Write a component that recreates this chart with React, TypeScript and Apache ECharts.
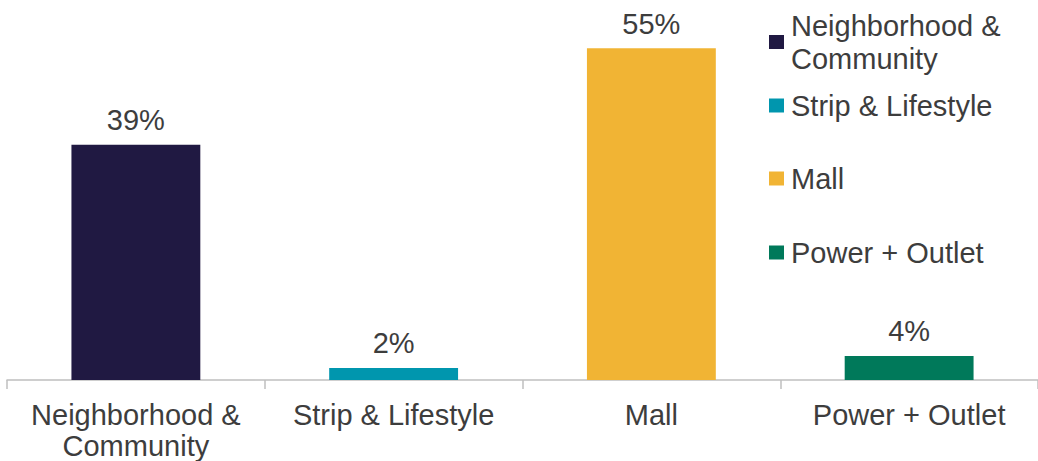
import React, { useEffect, useRef } from "react";
import * as echarts from "echarts";

const categories = ["Neighborhood &\nCommunity", "Strip & Lifestyle", "Mall", "Power + Outlet"];
const values = [39, 2, 55, 4];
const colors = ["#201942", "#0096AE", "#F1B434", "#00795A"];
const legendTops = [1.5, 89, 162, 236];

const FONT = "'Liberation Sans', Arial, sans-serif";
const TEXT = "#3D3D3D";

export default function App() {
  const ref = useRef<HTMLDivElement>(null);
  useEffect(() => {
    if (!ref.current) return;
    const chart = echarts.init(ref.current, null, { renderer: "svg" });
    const series = categories.map((name, i) => ({
      name,
      type: "bar",
      stack: "all",
      barWidth: "50%",
      itemStyle: { color: colors[i] },
      label: {
        show: true,
        position: "top",
        distance: 10,
        fontSize: 29,
        fontFamily: FONT,
        color: TEXT,
        formatter: (p: any) => `${p.value}%`,
      },
      data: categories.map((_, j) => (j === i ? values[i] : "-")),
    }));
    const legends = categories.map((name, i) => ({
      data: [name],
      orient: "vertical",
      left: 769,
      top: legendTops[i],
      padding: 0,
      itemWidth: 15,
      itemHeight: 14,
      itemGap: 0,
      icon: "rect",
      selectedMode: false,
      textStyle: {
        fontSize: 29,
        fontFamily: FONT,
        color: TEXT,
        lineHeight: 33,
        padding: i === 0 ? [15, 0, 0, 2] : [0, 0, 0, 2],
      },
    }));
    chart.setOption({
      animation: false,
      textStyle: { fontFamily: FONT },
      grid: { left: 7, right: 0, top: 18.2, bottom: 81, containLabel: false },
      legend: legends,
      xAxis: {
        type: "category",
        data: categories,
        axisLine: { show: true, lineStyle: { color: "#BFBFBF", width: 1.5 } },
        axisTick: { show: true, length: 9, lineStyle: { color: "#BFBFBF", width: 1.5 } },
        axisLabel: {
          fontSize: 29,
          fontFamily: FONT,
          color: TEXT,
          lineHeight: 31,
          margin: 19,
          interval: 0,
        },
      },
      yAxis: {
        type: "value",
        min: 0,
        max: 60,
        show: false,
        splitLine: { show: false },
      },
      series,
    });
    return () => chart.dispose();
  }, []);
  return (
    <div
      ref={ref}
      style={{ position: "fixed", left: 0, top: 0, width: 1038, height: 461, background: "#fff" }}
    />
  );
}
